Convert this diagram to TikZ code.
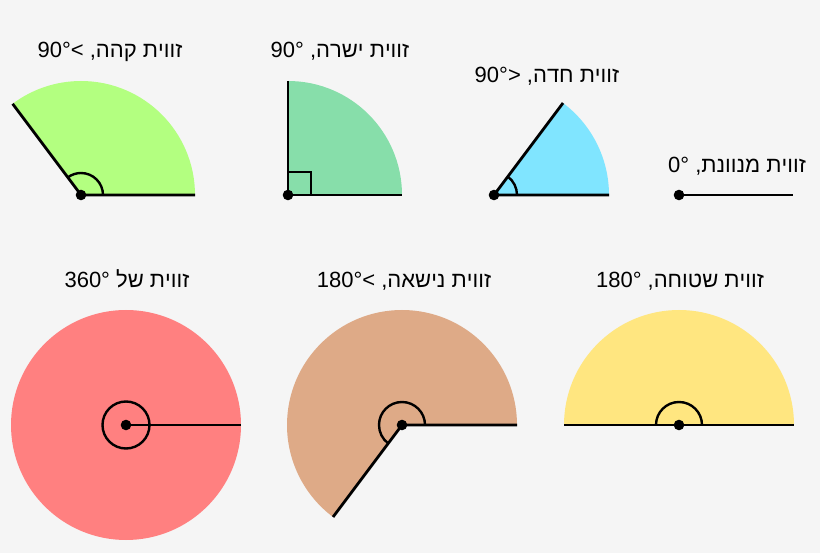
\documentclass[tikz,border=0pt]{standalone}
\usepackage{fontspec}
\setmainfont{Liberation Sans}
\TeXXeTstate=1
\definecolor{bg}{HTML}{F5F5F5}
\definecolor{cobtuse}{HTML}{B3FF80}
\definecolor{cright}{HTML}{87DEAA}
\definecolor{cacute}{HTML}{80E5FF}
\definecolor{cfull}{HTML}{FF8080}
\definecolor{creflex}{HTML}{DEAA87}
\definecolor{cstraight}{HTML}{FFE680}
\begin{document}
\begin{tikzpicture}[x=1pt,y=1pt,
  arm/.style={line width=2.8pt},
  marker/.style={line width=2.4pt},
  vdot/.style={fill=black},
  lbl/.style={font=\fontsize{22}{24}\selectfont,anchor=base,inner sep=0pt}]
\fill[bg] (0,0) rectangle (820,-553);
\useasboundingbox (0,0) rectangle (820,-553);
% ---------- obtuse
\coordinate (o1) at (81,-195);
\path (o1) ++(0:114) coordinate (o1a);
\path (o1) ++(126.87:114) coordinate (o1b);
\fill[cobtuse] (o1) -- (o1a) arc[start angle=0,end angle=126.87,radius=114] -- cycle;
\draw[marker] (o1) ++(0:22) arc[start angle=0,end angle=126.87,radius=22];
\draw[arm] (o1b) -- (o1) -- (o1a);
\fill[vdot] (o1) circle[radius=5.3];
\node[lbl] (t1) at (110,-58) {90°< ,\beginR זווית קהה\endR};
% ---------- right
\coordinate (o2) at (288,-195);
\path (o2) ++(0:114) coordinate (o2a);
\path (o2) ++(90:114) coordinate (o2b);
\fill[cright] (o2) -- (o2a) arc[start angle=0,end angle=90,radius=114] -- cycle;
\draw[marker] (o2) ++(23,0) |- ++(-23,23);
\draw[arm] (o2b) -- (o2) -- (o2a);
\fill[vdot] (o2) circle[radius=5.3];
\node[lbl] (t2) at (340,-58) {90° ,\beginR זווית ישרה\endR};
% ---------- acute
\coordinate (o3) at (494,-195);
\path (o3) ++(0:115) coordinate (o3a);
\path (o3) ++(53.13:115) coordinate (o3b);
\fill[cacute] (o3) -- (o3a) arc[start angle=0,end angle=53.13,radius=115] -- cycle;
\draw[marker] (o3) ++(0:23) arc[start angle=0,end angle=53.13,radius=23];
\draw[arm] (o3b) -- (o3) -- (o3a);
\fill[vdot] (o3) circle[radius=5.3];
\node[lbl] (t3) at (547,-83) {90°> ,\beginR זווית חדה\endR};
% ---------- zero
\coordinate (o4) at (679,-195);
\path (o4) ++(0:114) coordinate (o4a);
\draw[arm] (o4) -- (o4a);
\fill[vdot] (o4) circle[radius=5.3];
\node[lbl] (t4) at (737,-173) {0° ,\beginR זווית מנוונת\endR};
% ---------- full
\coordinate (o5) at (126,-425);
\path (o5) ++(0:115) coordinate (o5a);
\fill[cfull] (o5) circle[radius=115];
\draw[marker] (o5) circle[radius=23.5];
\draw[arm] (o5) -- (o5a);
\fill[vdot] (o5) circle[radius=5.3];
\node[lbl] (t5) at (127,-288) {360° \beginR זווית של\endR};
% ---------- reflex
\coordinate (o6) at (402,-425);
\path (o6) ++(0:115) coordinate (o6a);
\path (o6) ++(233.13:115) coordinate (o6b);
\fill[creflex] (o6) -- (o6a) arc[start angle=0,end angle=233.13,radius=115] -- cycle;
\draw[marker] (o6) ++(0:23) arc[start angle=0,end angle=233.13,radius=23];
\draw[arm] (o6b) -- (o6) -- (o6a);
\fill[vdot] (o6) circle[radius=5.3];
\node[lbl] (t6) at (404,-288) {180°< ,\beginR זווית נישאה\endR};
% ---------- straight
\coordinate (o7) at (679,-425);
\path (o7) ++(0:115) coordinate (o7a);
\path (o7) ++(180:115) coordinate (o7b);
\fill[cstraight] (o7) -- (o7a) arc[start angle=0,end angle=180,radius=115] -- cycle;
\draw[marker] (o7) ++(0:23) arc[start angle=0,end angle=180,radius=23];
\draw[arm] (o7b) -- (o7) -- (o7a);
\fill[vdot] (o7) circle[radius=5.3];
\node[lbl] (t7) at (680,-288) {180° ,\beginR זווית שטוחה\endR};
\end{tikzpicture}
\end{document}
